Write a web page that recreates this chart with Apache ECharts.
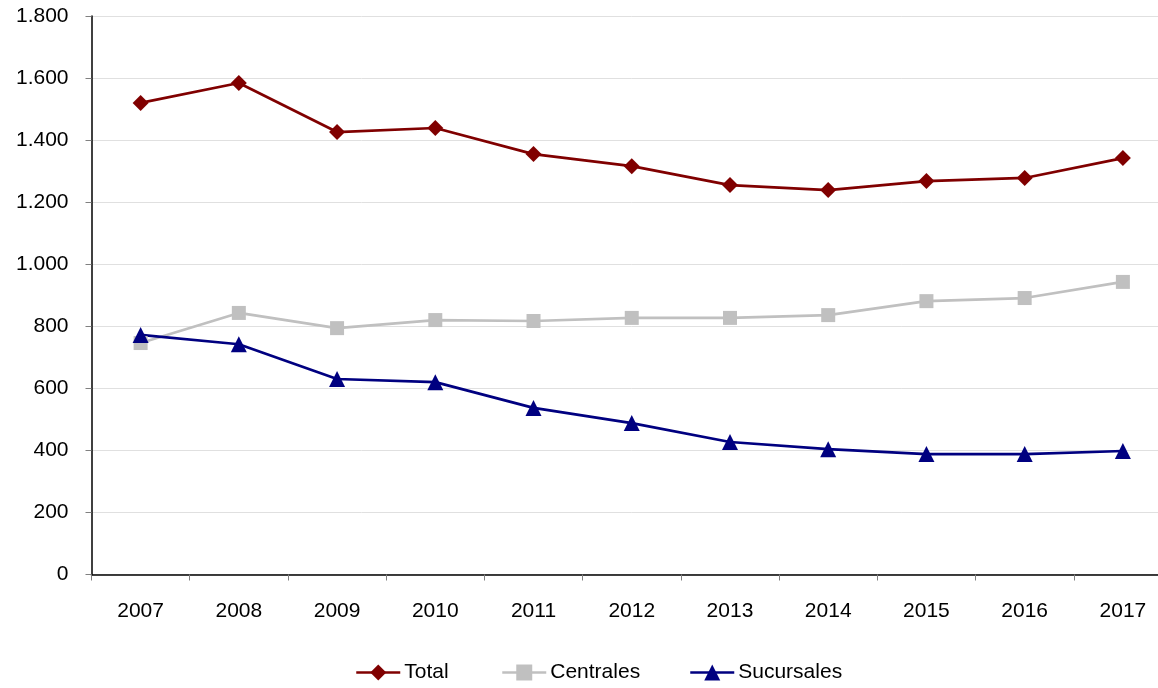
<!DOCTYPE html>
<html>
<head>
<meta charset="utf-8">
<script src="https://cdn.jsdelivr.net/npm/echarts@6/dist/echarts.min.js"></script>
<style>html,body{margin:0;padding:0;background:#fff;overflow:hidden;width:1158px;height:688px}#c{width:1172px;height:688px}</style>
</head>
<body>
<div id="c"></div>
<script>
var categories = ['2007','2008','2009','2010','2011','2012','2013','2014','2015','2016','2017'];
var totalValues = [1520, 1584, 1426, 1439, 1355, 1316, 1255, 1239, 1268, 1278, 1342];
var centralesValues = [746, 843, 794, 820, 817, 827, 827, 836, 881, 891, 943];
var sucursalesValues = [772, 742, 630, 620, 537, 488, 427, 404, 388, 388, 398];
var seriesNames = ['Total', 'Centrales', 'Sucursales'];

var font = 'Arial, "Liberation Sans", sans-serif';
function fmt(v){ return String(v).replace(/\B(?=(\d{3})+(?!\d))/g, '.'); }

var chart = echarts.init(document.getElementById('c'), null, {renderer:'canvas'});
function legend(name, left){
  return {
    data:[name], left:left, top:657, itemWidth:44, itemHeight:20, itemGap:0,
    lineStyle:{width:2.5},
    textStyle:{fontFamily:font, fontSize:21, color:'#000', padding:[0,0,0,-1]}
  };
}
chart.setOption({
  animation:false,
  backgroundColor:'#fff',
  legend:[legend(seriesNames[0],350), legend(seriesNames[1],496), legend(seriesNames[2],684)],
  grid:{left:91.5, right:0, top:16, bottom:113.5, containLabel:false},
  xAxis:{
    type:'category', data:categories, boundaryGap:true,
    axisLine:{lineStyle:{color:'#000', width:1.5}},
    axisTick:{show:true, length:6, lineStyle:{color:'#808080'}},
    axisLabel:{fontFamily:font, fontSize:21, color:'#000', margin:26},
    splitLine:{show:false}
  },
  yAxis:{
    type:'value', min:0, max:1800, interval:200,
    axisLine:{show:true, lineStyle:{color:'#000', width:1.5}},
    axisTick:{show:true, length:6, lineStyle:{color:'#808080'}},
    axisLabel:{fontFamily:font, fontSize:21, color:'#000', margin:23, formatter:fmt},
    splitLine:{lineStyle:{color:'#e0e0e0', width:1}}
  },
  series:[
    {name:seriesNames[0], type:'line', data:totalValues, symbol:'diamond', symbolSize:16,
     lineStyle:{color:'#800000', width:2.7}, itemStyle:{color:'#800000'}},
    {name:seriesNames[1], type:'line', data:centralesValues, symbol:'rect', symbolSize:14,
     lineStyle:{color:'#c0c0c0', width:2.7}, itemStyle:{color:'#c0c0c0'}},
    {name:seriesNames[2], type:'line', data:sucursalesValues, symbol:'triangle', symbolSize:16,
     lineStyle:{color:'#000080', width:2.7}, itemStyle:{color:'#000080'}}
  ]
});
</script>
</body>
</html>
